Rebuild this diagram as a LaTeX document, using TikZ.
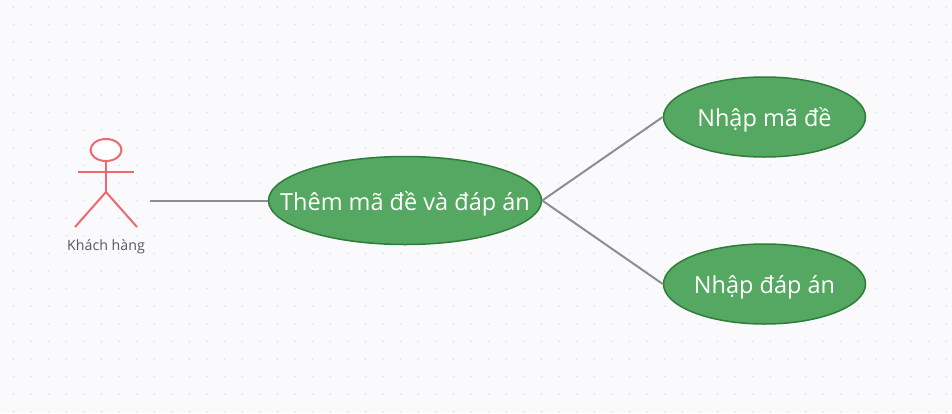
\documentclass[tikz,border=0pt]{standalone}
\usepackage{fontspec}
\setmainfont{Open Sans}
\usetikzlibrary{shapes.geometric}
\definecolor{bgcol}{HTML}{FAFAFC}
\definecolor{dotcol}{HTML}{E6E6EA}
\definecolor{casefill}{HTML}{55A861}
\definecolor{caseline}{HTML}{2F7D3C}
\definecolor{actorred}{HTML}{EC6A6E}
\definecolor{linkgray}{HTML}{8E8E8E}
\newcommand{\casetext}[1]{\raisebox{-9.5pt}[0pt][0pt]{\makebox[0pt]{#1}}}
\tikzset{
  usecase/.style={ellipse,draw=caseline,fill=casefill,line width=1.5pt,text=white,inner sep=0pt,font=\fontsize{23.5}{28}\selectfont},
  actorline/.style={draw=actorred,line width=2pt},
  link/.style={draw=linkgray,line width=2pt}
}
\begin{document}
\begin{tikzpicture}[x=1pt,y=-1pt]
    \useasboundingbox (0,0) rectangle (952,413);
    \fill [bgcol] (0,0) rectangle (952,413);
    % dotted canvas
    \foreach \i in {0,...,53} {
      \foreach \j in {0,...,23} {
        \fill [dotcol] (13.5+17.6*\i,7+17.6*\j) circle (1.1pt);
      }
    }

    % actor
    \node [ellipse,actorline,fill=white,minimum width=31pt,minimum height=22pt,inner sep=0pt] (head) at (106,150) {};
    \coordinate (hip) at (106,192);
    \coordinate (armL) at (78,172);
    \coordinate (armR) at (134,172);
    \coordinate (footL) at (75,227);
    \coordinate (footR) at (137,227);
    \coordinate (linkstart) at (150,200.5);
    \draw [actorline] (head.south)--(hip);
    \draw [actorline] (armL)--(armR);
    \draw [actorline] (footL)--(hip)--(footR);
    \node [text=black!65,font=\fontsize{14.2}{17}\selectfont] (actorlabel) at (106,247) {Khách hàng};

    % use cases
    \node [usecase,minimum width=273pt,minimum height=88pt] (them) at (405,200.5) {\casetext{Thêm mã đề và đáp án}};
    \node [usecase,minimum width=202pt,minimum height=80pt] (nhapma) at (764.5,117) {\casetext{Nhập mã đề}};
    \node [usecase,minimum width=202pt,minimum height=80pt] (nhapda) at (764.5,284) {\casetext{Nhập đáp án}};

    \draw [link] (linkstart)--(them.west);
    \draw [link] (them.east)--(nhapma.west);
    \draw [link] (them.east)--(nhapda.west);
\end{tikzpicture}
\end{document}
